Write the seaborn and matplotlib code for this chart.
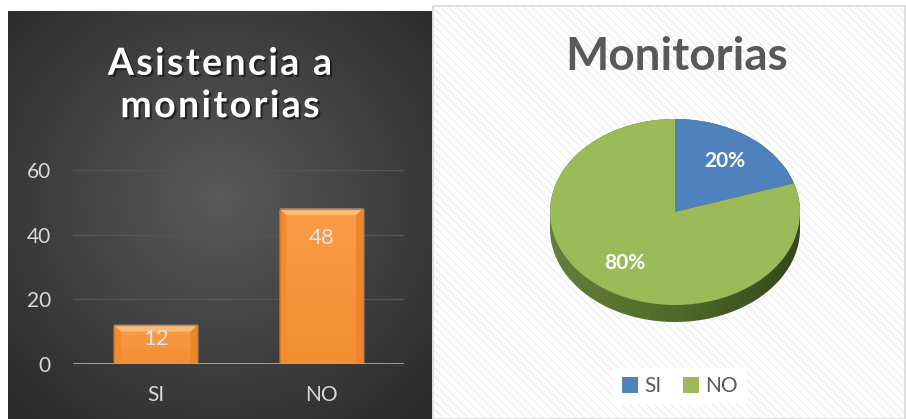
import numpy as np
import pandas as pd
import seaborn as sns
import matplotlib.pyplot as plt
from matplotlib.colors import LinearSegmentedColormap
from matplotlib.patches import Rectangle, Polygon, Patch
import matplotlib.patheffects as pe

categorias = ['SI', 'NO']
asistencia = [12, 48]
y_ticks = [0, 20, 40, 60]
titulo_barras = ['Asistencia a', 'monitorias']
titulo_pie = 'Monitorias'
colores_pie = ['#4f81bd', '#9bbb59']

W, H = 906, 419
sns.set_theme(style='white')
plt.rcParams['font.family'] = ['Lato', 'DejaVu Sans']
plt.rcParams['hatch.linewidth'] = 1.0


def fx(px):
    return px / W


def fy(py):
    return 1 - py / H


def spaced(s):
    # letter spacing, like the original title
    return '\u200a'.join(s)


fig = plt.figure(figsize=(W / 100, H / 100), dpi=100)
fig.patch.set_facecolor('white')

# white hatched panel (behind the axes)
fig.patches.append(Rectangle((fx(433), 0), 1 - fx(433), fy(6), transform=fig.transFigure,
                             facecolor='white', edgecolor='#efefef', hatch='\\\\\\\\', linewidth=0,
                             zorder=-2))
fig.patches.append(Rectangle((fx(433), 0), 1 - fx(433) - 0.001, fy(6), transform=fig.transFigure,
                             facecolor='none', edgecolor='#d9d9d9', linewidth=1.2, zorder=-1))

# dark panel, radial gradient
bg = fig.add_axes([fx(8), 0, fx(432) - fx(8), fy(11)])
yy, xx = np.mgrid[0:1:300j, 0:1:300j]
r = np.sqrt((xx - 0.5) ** 2 + (yy - 0.46) ** 2)
cmap_bg = LinearSegmentedColormap.from_list('bg', ['#5a5a5a', '#2b2b2b'])
bg.imshow(r, cmap=cmap_bg, extent=[0, 1, 0, 1], aspect='auto', origin='upper', vmin=0, vmax=0.7)
bg.axis('off')

# bar chart
ax = fig.add_axes([fx(73), fy(364), fx(404) - fx(73), fy(170) - fy(364)])
df = pd.DataFrame({'cat': categorias, 'val': asistencia})
sns.barplot(data=df, x='cat', y='val', hue='cat', palette=['#f7963f'] * 2, width=0.5,
            legend=False, saturation=1, ax=ax, zorder=3)
ax.set_facecolor('none')
ax.set_ylim(0, 60)
ax.set_yticks(y_ticks)
ax.set_xlabel('')
ax.set_ylabel('')
ax.yaxis.grid(True, color='#555555', lw=1, zorder=0)
ax.axhline(0, color='#a6a6a6', lw=2, zorder=4)
for s in ax.spines.values():
    s.set_visible(False)
ax.tick_params(axis='y', length=0, colors='#d9d9d9', labelsize=15, pad=16)
ax.tick_params(axis='x', length=0, colors='#d9d9d9', labelsize=15, pad=15)

grad = LinearSegmentedColormap.from_list('bar', ['#f38e33', '#f99c47'])
for p in list(ax.patches):
    x0, w, h = p.get_x(), p.get_width(), p.get_height()
    img = ax.imshow(np.linspace(0, 1, 100).reshape(-1, 1), cmap=grad, origin='lower',
                    extent=[x0, x0 + w, 0, h], aspect='auto', zorder=3.5)
    img.set_clip_path(p)
    bx, by = w * 0.08, 2.0
    ax.add_patch(Polygon([(x0, h), (x0 + w, h), (x0 + w - bx, h - by), (x0 + bx, h - by)],
                         closed=True, facecolor='#fdbb75', edgecolor='none', zorder=3.6))
    ax.add_patch(Polygon([(x0, h), (x0 + bx, h - by), (x0 + bx, 0), (x0, 0)],
                         closed=True, facecolor='#f28a2e', edgecolor='none', zorder=3.55))
    ax.add_patch(Polygon([(x0 + w, h), (x0 + w - bx, h - by), (x0 + w - bx, 0), (x0 + w, 0)],
                         closed=True, facecolor='#ee8529', edgecolor='none', zorder=3.55))
    ax.add_patch(Rectangle((x0, 0), w, h, facecolor='none', edgecolor='#d97a25', lw=0.8, zorder=3.7))
ax.set_xlim(-0.5, 1.5)
ax.set_ylim(0, 60)

for i, v in enumerate(asistencia):
    ax.text(i, v - min(9, v * 0.36), str(v), ha='center', va='center', color='#e6e6e6',
            fontsize=16, zorder=5)

fig.text(fx(220), fy(85), '\n'.join(spaced(l) for l in titulo_barras), ha='center', va='center',
         color='white', fontsize=27, fontweight='bold', linespacing=1.3,
         path_effects=[pe.withSimplePatchShadow(offset=(1.5, -1.5), shadow_rgbFace='black', alpha=0.5)])

# pie chart with depth
pax = fig.add_axes([fx(525), fy(362), fx(825) - fx(525), fy(62) - fy(362)])
depth = 17 / 93
t = np.linspace(0, np.pi, 200)
side = np.vstack([np.column_stack([np.cos(t), np.sin(t)]),
                  np.column_stack([np.cos(t + np.pi), np.sin(t + np.pi) - depth])])
side_cmap = LinearSegmentedColormap.from_list('side', ['#637f38', '#4f6a2a', '#34481b'])
sp = Polygon(side, closed=True, facecolor='none', edgecolor='none')
pax.add_patch(sp)
simg = pax.imshow(np.linspace(0, 1, 100).reshape(1, -1), cmap=side_cmap,
                  extent=[-1, 1, -1 - depth, 1], aspect='auto', zorder=1)
simg.set_clip_path(sp)

wedges, texts, autotexts = pax.pie(asistencia, colors=colores_pie, startangle=90, counterclock=False,
                                   autopct='%.0f%%', pctdistance=0.68,
                                   textprops=dict(color='white', fontsize=15, fontweight='bold'),
                                   wedgeprops=dict(linewidth=0, zorder=2))
for tx in autotexts:
    tx.set_zorder(3)
pax.set_aspect('auto')
pax.set_xlim(-1.2, 1.2)
pax.set_ylim(-1.613, 1.613)
pax.axis('off')

fig.text(fx(677), fy(57), titulo_pie, ha='center', va='center', color='#595959',
         fontsize=33, fontweight='bold')

handles = [Patch(facecolor=c, edgecolor='none') for c in colores_pie]
fig.legend(handles, categorias, loc='center', bbox_to_anchor=(fx(680), fy(386)), ncol=2,
           frameon=True, facecolor='white', edgecolor='none', framealpha=1, fancybox=False,
           fontsize=15, handlelength=0.8, handleheight=0.8, handletextpad=0.3,
           columnspacing=1.0, labelcolor='#595959')

fig.savefig('out.png', dpi=100)
